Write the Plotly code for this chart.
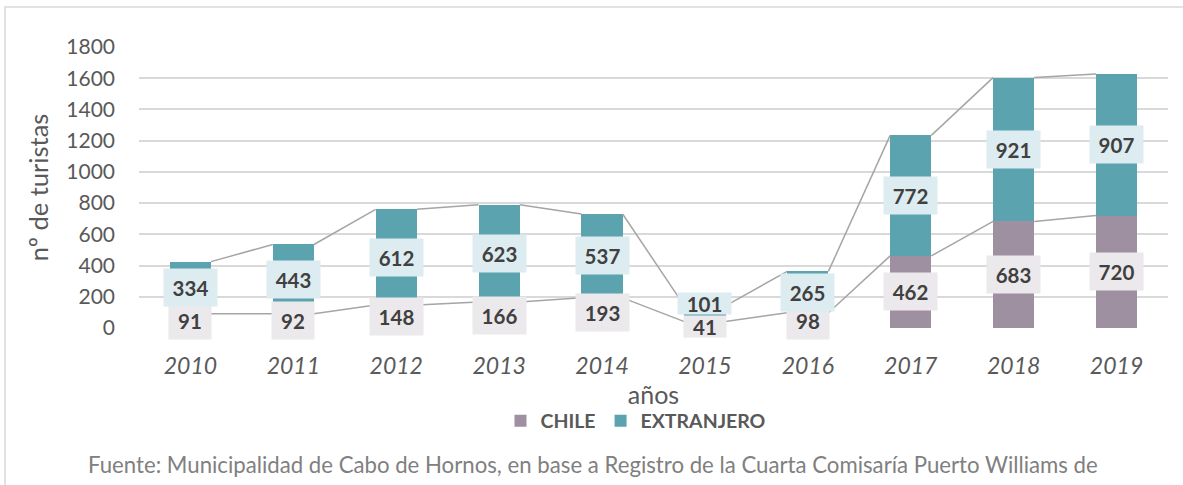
import plotly.graph_objects as go

years = ["2010", "2011", "2012", "2013", "2014", "2015", "2016", "2017", "2018", "2019"]
chile = [91, 92, 148, 166, 193, 41, 98, 462, 683, 720]
extranjero = [334, 443, 612, 623, 537, 101, 265, 772, 921, 907]
y_ticks = [0, 200, 400, 600, 800, 1000, 1200, 1400, 1600, 1800]

C_CHILE = "#9E8FA1"
C_EXT = "#5BA3AE"
FONT = "Lato"
BAR_W = 0.4

xs = list(range(len(years)))
totals = [c + e for c, e in zip(chile, extranjero)]

fig = go.Figure()
fig.add_trace(go.Bar(x=xs, y=chile, name="CHILE", marker=dict(color=C_CHILE, line=dict(width=0)),
                     width=BAR_W))
fig.add_trace(go.Bar(x=xs, y=extranjero, name="EXTRANJERO", marker=dict(color=C_EXT, line=dict(width=0)),
                     width=BAR_W))

shapes = []
# series lines connecting bar tops
for series in (chile, totals):
    for i in range(len(xs) - 1):
        shapes.append(dict(type="line", xref="x", yref="y",
                           x0=xs[i] + BAR_W / 2, y0=series[i],
                           x1=xs[i + 1] - BAR_W / 2, y1=series[i + 1],
                           line=dict(color="#A5A5A5", width=1.5), layer="above"))
# outer frame
shapes.append(dict(type="rect", xref="paper", yref="paper",
                   x0=-0.1302, y0=-0.62, x1=1.03, y1=1.1423,
                   line=dict(color="#D9D9D9", width=1.5), layer="below"))

annotations = []
for i in xs:
    for val, base, bg in ((chile[i], 0, "#ECE9EC"), (extranjero[i], chile[i], "#DDECF0")):
        t = str(val)
        tight = years[i] == "2015"
        if tight:
            ys = 10 if base > 0 else -1.5
            h, pad = 17, 2
        else:
            ys, h, pad = 0, 29, 4
        annotations.append(dict(x=i, y=base + val / 2, xref="x", yref="y", text="<b>%s</b>" % t,
                                showarrow=False, bgcolor=bg, borderpad=pad,
                                width=11 * len(t) + 12 + (4 if tight else 0), height=h, yshift=ys,
                                font=dict(family=FONT, size=20.5, color="#404040")))
annotations.append(dict(x=-0.0515, y=-0.487, xref="paper", yref="paper", xanchor="left", yanchor="middle",
                        text="Fuente: Municipalidad de Cabo de Hornos, en base a Registro de la Cuarta Comisaría Puerto Williams de",
                        showarrow=False, font=dict(family=FONT, size=22.2, color="#808080")))

fig.update_layout(
    barmode="stack",
    width=1183, height=485,
    margin=dict(l=139, r=15, t=47, b=157),
    plot_bgcolor="white", paper_bgcolor="white",
    font=dict(family=FONT, color="#595959"),
    shapes=shapes, annotations=annotations,
    showlegend=True,
    legend=dict(orientation="h", x=0.483, y=-0.331, xanchor="center", yanchor="middle",
                font=dict(family=FONT, size=19.5, color="#595959", weight="bold"),
                itemwidth=30, traceorder="normal"),
    xaxis=dict(tickmode="array", tickvals=xs, ticktext=years, range=[-0.5, len(years) - 0.5],
               showgrid=False, zeroline=False, showline=False, ticks="", automargin=False,
               ticklabelstandoff=22,
               tickfont=dict(family=FONT, size=23, color="#595959", style="italic"),
               title=dict(text="años", standoff=8, font=dict(family=FONT, size=25, color="#595959"))),
    yaxis=dict(range=[0, 1800], tickvals=y_ticks, showgrid=True, gridcolor="#D9D9D9", gridwidth=1.5,
               zeroline=False, showline=False, ticks="", ticklabelstandoff=23, automargin=False,
               tickfont=dict(family=FONT, size=21, color="#595959"),
               title=dict(text="nº de turistas", standoff=10, font=dict(family=FONT, size=25.5, color="#595959"))),
)

fig.write_html("out.html", config={"displayModeBar": False},
               post_script="document.body.style.margin='0';document.body.style.overflow='hidden';")
